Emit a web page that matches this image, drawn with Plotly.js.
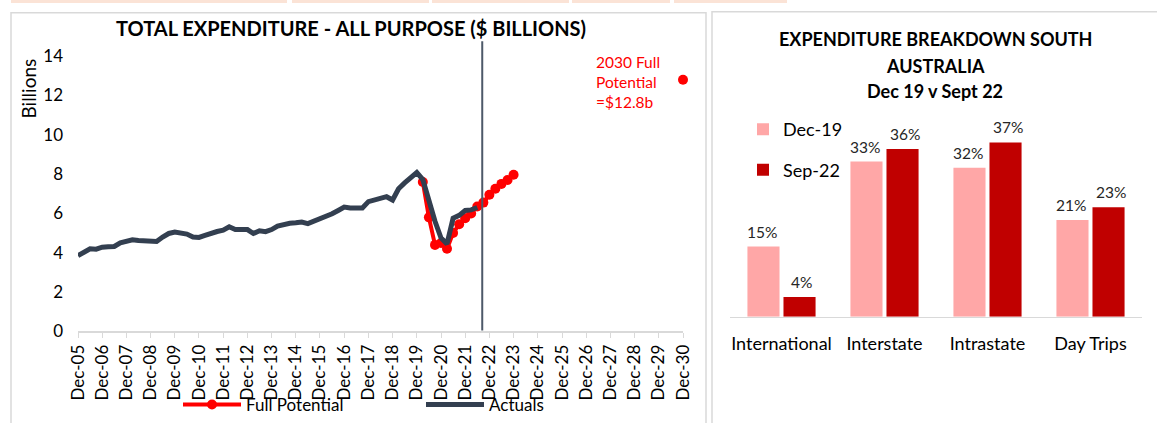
<!DOCTYPE html>
<html><head><meta charset="utf-8">
<script src="https://cdn.plot.ly/plotly-3.0.1.min.js"></script>
<style>html,body{margin:0;padding:0;background:#fff}#chart{width:1157px;height:423px}</style>
</head><body><div id="chart"></div>
<script>
// ---------- DATA ----------
const actualQuarters = ['2005-12','2006-03','2006-06','2006-09','2006-12','2007-03','2007-06','2007-09','2007-12','2008-03','2008-06','2008-09','2008-12','2009-03','2009-06','2009-09','2009-12','2010-03','2010-06','2010-09','2010-12','2011-03','2011-06','2011-09','2011-12','2012-03','2012-06','2012-09','2012-12','2013-03','2013-06','2013-09','2013-12','2014-03','2014-06','2014-09','2014-12','2015-03','2015-06','2015-09','2015-12','2016-03','2016-06','2016-09','2016-12','2017-03','2017-06','2017-09','2017-12','2018-03','2018-06','2018-09','2018-12','2019-03','2019-06','2019-09','2019-12','2020-03','2020-06','2020-09','2020-12','2021-03','2021-06','2021-09','2021-12','2022-03','2022-06'];
const actualValues = [3.85,4.0,4.2,4.18,4.28,4.3,4.32,4.5,4.55,4.66,4.62,4.6,4.63,4.57,4.8,4.98,5.05,5.02,4.95,4.8,4.78,4.88,5.0,5.08,5.15,5.32,5.18,5.2,5.18,4.98,5.12,5.07,5.18,5.36,5.45,5.5,5.52,5.56,5.48,5.6,5.7,5.8,5.98,6.15,6.32,6.28,6.27,6.28,6.6,6.7,6.78,6.85,6.68,7.25,7.55,7.8,8.08,7.72,6.6,5.6,4.75,4.45,5.75,5.9,6.15,6.18,6.3];
const potentialQuarters = ['2020-03','2020-06','2020-09','2020-12','2021-03','2021-06','2021-09','2021-12','2022-03','2022-06','2022-09','2022-12','2023-03','2023-06','2023-09','2023-12'];
const potentialValues = [7.6,5.8,4.4,4.5,4.2,5.0,5.45,5.75,6.0,6.35,6.55,6.95,7.25,7.5,7.7,7.97];
const target2030Quarter = ['2030-12'];
const target2030Value = [12.8];
const actualsCutoffDate = '2022-08-15';
const yTickValues = [0,2,4,6,8,10,12,14];
const seriesNamesLeft = ['Full Potential','Actuals'];

const breakdownCategories = ['International','Interstate','Intrastate','Day Trips'];
const seriesNamesRight = ['Dec-19','Sep-22'];
const dec19Shares = [15.0,33.2,31.9,20.7];
const sep22Shares = [4.2,35.9,37.3,23.4];

// ---------- LAYOUT HELPERS ----------
const W = 1157, H = 423;
const px = x => x / W;
const py = y => 1 - y / H;
const FONT = 'Lato, "Liberation Sans", sans-serif';
const RED = '#ff0000', DARK = '#333f50', PINK = '#ffa7a7', CRIMSON = '#c00000';

const traces = [
  { type:'scatter', mode:'lines+markers', name:seriesNamesLeft[0], x:potentialQuarters, y:potentialValues,
    line:{color:RED, width:4}, marker:{color:RED, size:10}, legend:'legend', hoverinfo:'skip' },
  { type:'scatter', mode:'markers', name:'2030', showlegend:false, x:target2030Quarter, y:target2030Value,
    marker:{color:RED, size:10}, cliponaxis:false, hoverinfo:'skip' },
  { type:'scatter', mode:'lines', name:seriesNamesLeft[1], x:actualQuarters, y:actualValues,
    line:{color:DARK, width:5}, legend:'legend', hoverinfo:'skip' },
  { type:'bar', name:seriesNamesRight[0], x:breakdownCategories, y:dec19Shares, xaxis:'x2', yaxis:'y2',
    marker:{color:PINK}, legend:'legend2', legendgroup:'a', hoverinfo:'skip' },
  { type:'bar', name:seriesNamesRight[1], x:breakdownCategories, y:sep22Shares, xaxis:'x2', yaxis:'y2',
    marker:{color:CRIMSON}, legend:'legend2', legendgroup:'b', hoverinfo:'skip' }
];

const ann = (o) => Object.assign({xref:'paper', yref:'paper', showarrow:false, xanchor:'center', yanchor:'middle'}, o);
const annotations = [
  ann({ text:'<b>TOTAL EXPENDITURE - ALL PURPOSE ($ BILLIONS)</b>', x:px(351), y:py(28), font:{size:20, color:'#000'} }),
  ann({ text:'Billions', textangle:-90, x:px(29), y:py(90), font:{size:19, color:'#000'} }),
  ann({ text:'2030 Full<br>Potential<br>=$12.8b', x:px(594), y:py(83), xanchor:'left', align:'left',
    font:{size:15.5, color:RED} }),
  ann({ text:'<b>EXPENDITURE BREAKDOWN SOUTH</b>', x:px(935), y:py(40), font:{size:18,color:'#000'} }),
  ann({ text:'<b>AUSTRALIA</b>', x:px(935), y:py(67), font:{size:18,color:'#000'} }),
  ann({ text:'<b>Dec 19 v Sept 22</b>', x:px(935), y:py(93), font:{size:18,color:'#000'} })
];
[dec19Shares, sep22Shares].forEach((vals, s) => {
  vals.forEach((v, i) => {
    annotations.push({ text: Math.round(v) + '%', xref:'x2', yref:'y2', x:breakdownCategories[i], y:v,
      xshift: s === 0 ? -20 : 20, xanchor:'center', yanchor:'bottom', yshift:4, showarrow:false,
      font:{size:15.5, color:'#262626'} });
  });
});

const shapes = [
  { type:'line', xref:'x', yref:'paper', x0:actualsCutoffDate, x1:actualsCutoffDate, y0:py(336), y1:py(42),
    line:{color:'#4d5969', width:2} },
  { type:'rect', xref:'paper', yref:'paper', x0:px(11), x1:px(706), y0:-0.05, y1:py(13), line:{color:'#d9d9d9', width:1.5} },
  { type:'rect', xref:'paper', yref:'paper', x0:px(712), x1:1.05, y0:-0.05, y1:py(12), line:{color:'#d9d9d9', width:1.5} },
  { type:'rect', xref:'paper', yref:'paper', x0:px(11), x1:px(287), y0:py(3), y1:1, line:{width:0}, fillcolor:'#fbe3d6' },
  { type:'rect', xref:'paper', yref:'paper', x0:px(292), x1:px(429), y0:py(3), y1:1, line:{width:0}, fillcolor:'#fbe3d6' },
  { type:'rect', xref:'paper', yref:'paper', x0:px(432), x1:px(569), y0:py(3), y1:1, line:{width:0}, fillcolor:'#fbe3d6' },
  { type:'rect', xref:'paper', yref:'paper', x0:px(572), x1:px(670), y0:py(3), y1:1, line:{width:0}, fillcolor:'#fbe3d6' },
  { type:'rect', xref:'paper', yref:'paper', x0:px(674), x1:px(787), y0:py(3), y1:1, line:{width:0}, fillcolor:'#fbe3d6' }
];

const layout = {
  width:W, height:H, margin:{l:0,r:0,t:0,b:0}, paper_bgcolor:'#fff', plot_bgcolor:'rgba(0,0,0,0)',
  font:{family:FONT, color:'#000'},
  showlegend:true,
  barmode:'group', bargap:0.30, bargroupgap:0.11,
  xaxis:{ domain:[px(78), px(683)], anchor:'y', type:'date', range:['2005-12-01','2030-12-01'],
    tick0:'2005-12-01', dtick:'M12', tickformat:'%b-%y', tickangle:-90, ticks:'outside', ticklen:5,
    tickcolor:'#d9d9d9', showline:true, linecolor:'#d9d9d9', linewidth:1.5, showgrid:false, zeroline:false,
    tickfont:{size:17, color:'#000'}, fixedrange:true },
  yaxis:{ domain:[py(337), py(41)], anchor:'x', range:[0,14.8], tickvals:yTickValues, showgrid:false,
    zeroline:false, showline:false, ticks:'', tickfont:{size:17, color:'#000'}, ticklabelstandoff:14, fixedrange:true },
  xaxis2:{ domain:[px(730), px(1142)], anchor:'y2', type:'category', showline:true, linecolor:'#d9d9d9', linewidth:1.5,
    ticks:'', showgrid:false, zeroline:false, tickfont:{size:18, color:'#000'}, ticklabelstandoff:10, fixedrange:true },
  yaxis2:{ domain:[py(322), py(132)], anchor:'x2', range:[0,40], visible:false, fixedrange:true },
  legend:{ orientation:'h', x:px(178), y:py(412), xanchor:'left', yanchor:'middle', itemwidth:58,
    entrywidth:170, entrywidthmode:'pixels', font:{size:17, color:'#000'}, bgcolor:'rgba(0,0,0,0)', traceorder:'normal' },
  legend2:{ orientation:'v', x:px(743), y:py(113), xanchor:'left', yanchor:'top', traceorder:'grouped', tracegroupgap:14,
    font:{size:18, color:'#000'}, bgcolor:'rgba(0,0,0,0)' },
  annotations, shapes
};

Plotly.newPlot('chart', traces, layout, {displayModeBar:false, staticPlot:true});
</script></body></html>
